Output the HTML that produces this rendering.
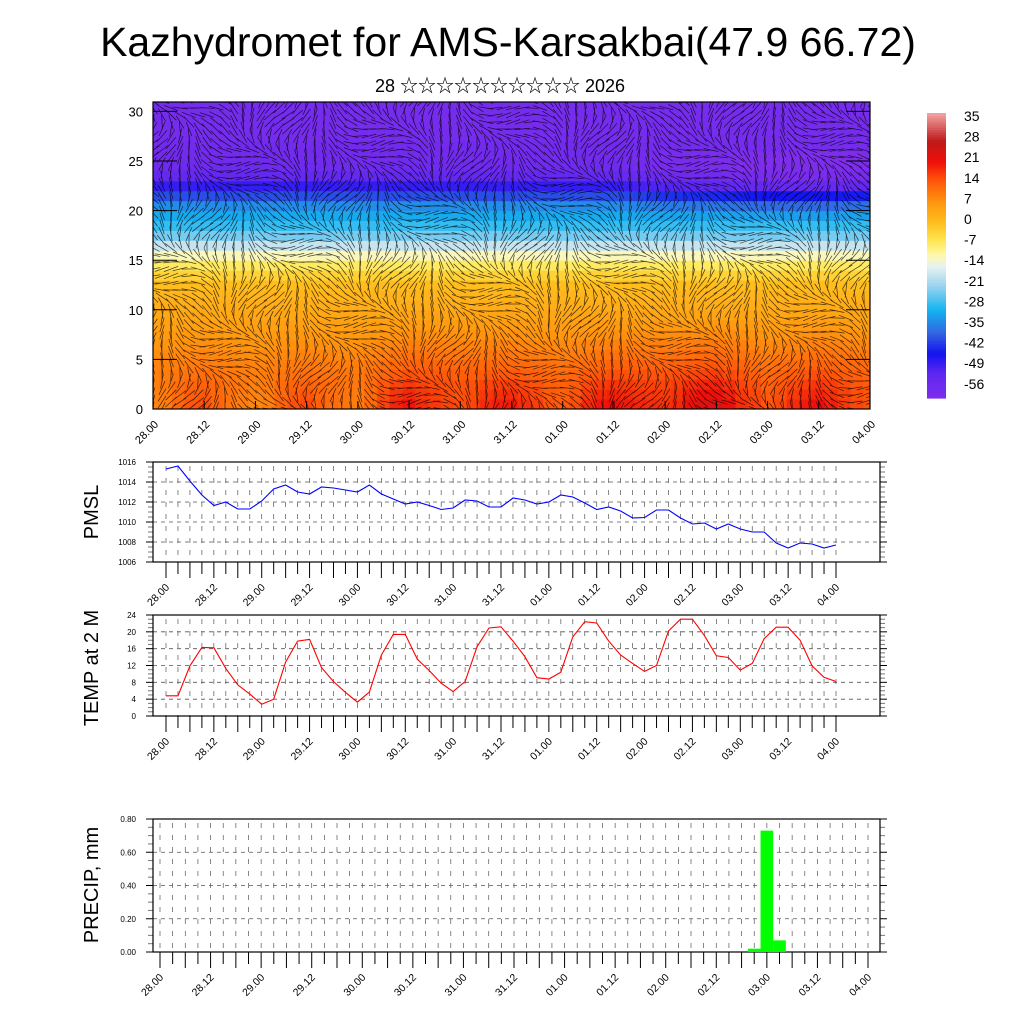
<!DOCTYPE html>
<html><head><meta charset="utf-8"><style>
body{margin:0;background:#fff;}
svg{display:block;font-family:"Liberation Sans","Noto Sans CJK SC",sans-serif;}
</style></head><body>
<svg id="s" width="1024" height="1024" viewBox="0 0 1024 1024">
<text x="508" y="56" font-size="41" text-anchor="middle">Kazhydromet for AMS-Karsakbai(47.9 66.72)</text>
<text x="500" y="92" font-size="18" text-anchor="middle">28 ☆☆☆☆☆☆☆☆☆☆ 2026</text>
<defs><clipPath id="hc"><rect x="153" y="102" width="717" height="307"/></clipPath></defs>
<g id="heat" clip-path="url(#hc)"></g>
<g id="wind" clip-path="url(#hc)"></g>
<g id="topax"></g>
<g id="cbar"></g>
<g id="pmsl"></g>
<g id="temp"></g>
<g id="prec"></g>
</svg>
<script>
const timeLabels=["28.00","28.12","29.00","29.12","30.00","30.12","31.00","31.12","01.00","01.12","02.00","02.12","03.00","03.12","04.00"];
const pmslValues=[1015.3,1015.6,1014.1,1012.7,1011.65,1012.0,1011.3,1011.3,1012.1,1013.3,1013.7,1013.0,1012.8,1013.5,1013.4,1013.2,1013.0,1013.7,1012.8,1012.3,1011.8,1012.0,1011.65,1011.25,1011.4,1012.2,1012.1,1011.5,1011.5,1012.4,1012.2,1011.8,1012.0,1012.7,1012.5,1011.9,1011.25,1011.5,1011.1,1010.4,1010.45,1011.2,1011.2,1010.4,1009.8,1009.9,1009.3,1009.8,1009.3,1009.0,1009.0,1007.9,1007.4,1007.9,1007.8,1007.4,1007.7];
const tempValues=[4.8,4.8,11.9,16.3,16.2,11.3,7.4,5.2,2.8,4.0,12.8,17.8,18.2,11.5,8.2,5.6,3.3,5.7,14.5,19.4,19.4,13.5,10.8,7.8,5.8,8.2,16.5,20.9,21.2,17.8,14.1,9.1,8.8,10.4,18.8,22.4,22.1,17.8,14.5,12.5,10.6,12.0,20.2,23.0,23.0,19.1,14.3,13.9,10.9,12.5,18.4,21.1,21.1,18.0,11.9,9.2,8.2];
const precipIndex=[47,48,49];
const precipValues=[0.02,0.73,0.07];
const pmslTicks=[1006,1008,1010,1012,1014,1016];
const tempTicks=[0,4,8,12,16,20,24];
const precipTicks=[0,0.2,0.4,0.6,0.8];
const levelTicks=[0,5,10,15,20,25,30];
// mean temperature by level (0..31)
const profileTemp=[12,11.5,11,10,9,8,7,6,5,4,3,1.5,0,-3,-7,-12,-18,-24,-28,-31,-34,-40,-48,-53,-56,-57,-57,-58,-58,-58,-58,-58];
// low-level warm anomaly at each 12h label time
const lowAnom=[0,2,0,2,1,6,5,5,3,6,6,8,3,6,4];
// upper-level cold anomaly at each 12h label time (levels ~19-26)
const upperAnom=[0,0,0,0,0,0,0,0,0,0,-3,-4,-6,-6,-5];
const cbarLabels=[35,28,21,14,7,0,-7,-14,-21,-28,-35,-42,-49,-56];
const NS="http://www.w3.org/2000/svg";
function el(p,t,a){const e=document.createElementNS(NS,t);for(const k in a)e.setAttribute(k,a[k]);p.appendChild(e);return e;}
const cstops=[[-60,[125,45,235]],[-52,[95,40,240]],[-45,[20,20,240]],[-38,[50,100,225]],[-30,[20,180,240]],[-22,[150,210,240]],[-15,[232,242,240]],[-11,[255,248,170]],[-6,[255,230,80]],[0,[255,190,30]],[7,[255,150,15]],[14,[255,90,10]],[21,[240,15,10]],[28,[190,25,25]],[38,[245,170,170]]];
function c2(c){return "rgb("+c.map(Math.round).join(",")+")";}
function cmap(v){if(v<=cstops[0][0])return c2(cstops[0][1]);for(let i=1;i<cstops.length;i++){if(v<=cstops[i][0]){const a=cstops[i-1],b=cstops[i],f=(v-a[0])/(b[0]-a[0]);return c2(a[1].map((x,j)=>x+(b[1][j]-x)*f));}}return c2(cstops[cstops.length-1][1]);}
function interp(arr,i){const t=i/4;const k=Math.min(Math.floor(t),arr.length-2);const f=t-k;return arr[k]*(1-f)+arr[k+1]*f;}
const TX0=153,TX1=870,TY0=102,TY1=409,LPX=9.92;
const tx=i=>TX0+(TX1-TX0)*i/56, ty=l=>TY1-LPX*l;
const heat=document.getElementById('heat');
const nT=tempValues.length;
for(let i=0;i<nT;i++){for(let l=0;l<32;l++){
  const lm=l+0.5;const decay=Math.max(0,1-lm/10);
  const up=(lm>19&&lm<27)?Math.sin((lm-19)/8*Math.PI):0;
  const v=profileTemp[l]+interp(lowAnom,i)*decay*1.2+(tempValues[i]-14)*0.35*Math.max(0,1-lm/4)+interp(upperAnom,i)*up;
  const r=el(heat,'rect',{x:tx(i)-6.6,y:ty(l+1),width:13.6,height:LPX+0.5,fill:cmap(v)});
  
  
}}
const wind=document.getElementById('wind');
let wd="";
for(let i=0;i<=80;i++){for(let l=0;l<=44;l++){
  const x=TX0+i*9,y=TY1-l*7;
  const a=1.1+0.9*Math.sin(i*0.37+l*0.21)+0.6*Math.cos(l*0.5-i*0.13);
  const L=7.5;wd+="M"+(x-L*Math.cos(a)).toFixed(1)+" "+(y-L*Math.sin(a)).toFixed(1)+"L"+(x+L*Math.cos(a)).toFixed(1)+" "+(y+L*Math.sin(a)).toFixed(1);
}}
el(wind,'path',{d:wd,stroke:"#000",'stroke-width':0.75,'stroke-opacity':0.7,fill:"none"});
const topAx=document.getElementById('topax');
el(topAx,'rect',{x:TX0,y:TY0,width:TX1-TX0,height:TY1-TY0,fill:"none",stroke:"#000",'stroke-width':1.2});
levelTicks.forEach(v=>{const y=ty(v);
  el(topAx,'line',{x1:TX0,y1:y,x2:TX0+24,y2:y,stroke:"#000"});el(topAx,'line',{x1:TX1-24,y1:y,x2:TX1,y2:y,stroke:"#000"});
  const t=el(topAx,'text',{x:143,y:y+5,'font-size':13,'text-anchor':'end'});t.textContent=v;
  
  });
timeLabels.forEach((s,k)=>{const x=TX0+(TX1-TX0)*k/14;
  el(topAx,'line',{x1:x,y1:TY1,x2:x,y2:TY1-8,stroke:"#000"});
  const t=el(topAx,'text',{x:x+6,y:TY1+16,'font-size':11,'text-anchor':'end',transform:`rotate(-45 ${x+6} ${TY1+16})`});t.textContent=s;
  
  });
const cb=document.getElementById('cbar');
const CY0=113,CY1=398;
for(let k=0;k<120;k++){const v=-60+98*k/120;const y=CY1-(CY1-CY0)*(k+1)/120;el(cb,'rect',{x:927,y:y,width:19,height:(CY1-CY0)/120+0.6,fill:cmap(v)});}
cbarLabels.forEach((v,k)=>{const y=116+k*20.6;const t=el(cb,'text',{x:964,y:y+5,'font-size':14});t.textContent=v;
  
  });
function panel(gid,X0,X1,Y0,Y1,xa,xb,ymin,ymax,ticks,fmt,ylab,labY,minorN){
  const g=document.getElementById(gid);
  const xs=i=>xa+(xb-xa)*i/56, ys=v=>Y1-(Y1-Y0)*(v-ymin)/(ymax-ymin);
  for(let i=0;i<=56;i++){const x=xs(i);el(g,'line',{x1:x,y1:Y0+4,x2:x,y2:Y1,stroke:"#555",'stroke-width':0.7,'stroke-dasharray':"5,7"});
    el(g,'line',{x1:x,y1:Y1,x2:x,y2:Y1+(i%2==0?16:12),stroke:"#000",'stroke-width':1});}
  ticks.forEach((v,k)=>{const y=ys(v);
    if(k>0&&k<ticks.length-1)el(g,'line',{x1:X0,y1:y,x2:X1,y2:y,stroke:"#555",'stroke-width':0.8,'stroke-dasharray':"4,4"});
    el(g,'line',{x1:X0,y1:y,x2:X0-7,y2:y,stroke:"#000"});el(g,'line',{x1:X1,y1:y,x2:X1+7,y2:y,stroke:"#000"});
    const t=el(g,'text',{x:X0-17,y:y+3,'font-size':8,'text-anchor':'end'});t.textContent=fmt(v);
    
    
    if(k<ticks.length-1)for(let m=1;m<minorN;m++){const ym=y-(ys(ticks[0])-ys(ticks[1]))*m/minorN;
      el(g,'line',{x1:X0,y1:ym,x2:X0-5,y2:ym,stroke:"#777"});el(g,'line',{x1:X1,y1:ym,x2:X1+5,y2:ym,stroke:"#777"});}
  });
  el(g,'rect',{x:X0,y:Y0,width:X1-X0,height:Y1-Y0,fill:"none",stroke:"#000",'stroke-width':1.2});
  timeLabels.forEach((s,k)=>{const x=xs(k*4)+4;const y=Y1+26;
    const t=el(g,'text',{x:x,y:y,'font-size':10.5,'text-anchor':'end',transform:`rotate(-45 ${x} ${y})`});t.textContent=s;
    
    });
  const yl=el(g,'text',{x:0,y:0,'font-size':20,'text-anchor':'middle',transform:`translate(98 ${labY}) rotate(-90)`});yl.textContent=ylab;
  
  
  return {g,xs,ys};
}
const p=panel('pmsl',153,880,462,562,166,836,1006,1016,pmslTicks,v=>v,"PMSL",512,4);
el(p.g,'path',{d:pmslValues.map((v,i)=>(i?"L":"M")+p.xs(i).toFixed(1)+" "+p.ys(v).toFixed(1)).join(""),fill:"none",stroke:"#0000ff",'stroke-width':1.1,});
const q=panel('temp',153,880,615,716,166,836,0,24,tempTicks,v=>v,"TEMP at 2 M",668,4);
el(q.g,'path',{d:tempValues.map((v,i)=>(i?"L":"M")+q.xs(i).toFixed(1)+" "+q.ys(v).toFixed(1)).join(""),fill:"none",stroke:"#ff0000",'stroke-width':1.1,});
const rr=panel('prec',153,880,819,952,160,868,0,0.8,precipTicks,v=>v.toFixed(2),"PRECIP, mm",885,4);
const bw=(868-160)/56;
precipValues.forEach((v,k)=>{const x=rr.xs(precipIndex[k]);
  const b=el(rr.g,'rect',{x:x-bw/2,y:rr.ys(v),width:bw,height:rr.ys(0)-rr.ys(v),fill:"#00ff00"});
  
  });
</script>
</body></html>
